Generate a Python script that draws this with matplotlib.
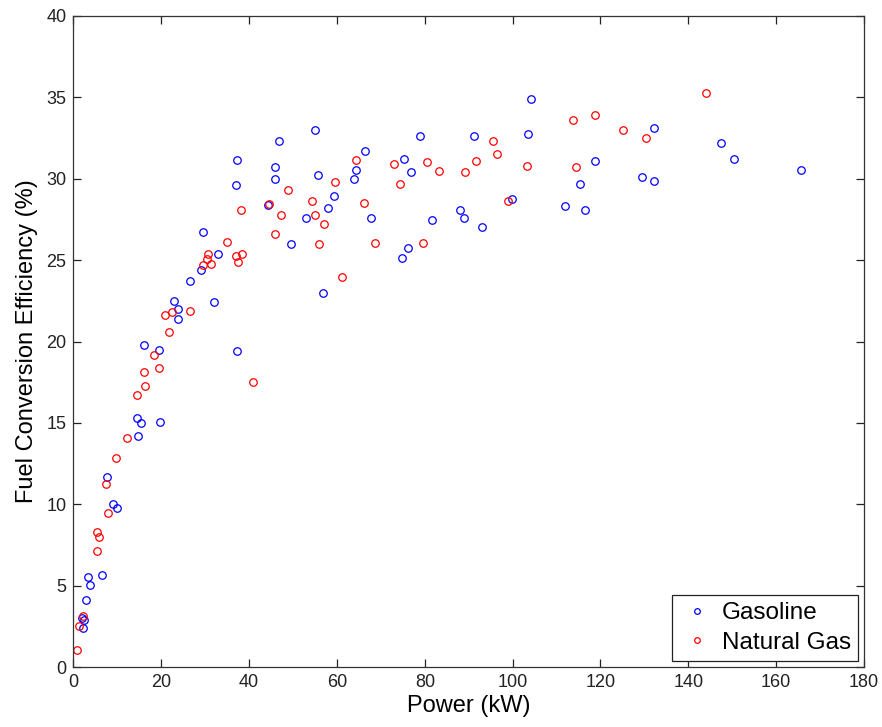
import numpy as np
import matplotlib
matplotlib.use("Agg")
from matplotlib import pyplot as plt

# gasoline engine data (power kW, efficiency %)
gas_power = [2.1, 2.4, 1.9, 2.85, 3.2, 3.8, 6.6, 7.7, 8.9, 10.0,
             14.4, 15.3, 14.7, 19.7, 16.1, 19.5, 22.8, 23.7, 23.9, 26.5,
             32.0, 29.0, 33.0, 37.2, 29.6, 37.2, 36.9, 44.4, 46.7, 45.9,
             45.9, 49.5, 55.1, 55.7, 52.9, 58.0, 59.3, 63.8, 64.3, 56.8,
             66.4, 67.8, 75.3, 76.8, 79.0, 81.6, 76.2, 74.8, 88.0, 88.9,
             93.1, 91.2, 99.9, 103.6, 104.2, 118.7, 115.3, 112.0, 116.5, 132.2,
             129.4, 132.2, 147.4, 150.5, 165.6]
gas_eff = [2.4, 2.9, 3.0, 4.1, 5.55, 5.05, 5.65, 11.7, 10.0, 9.8,
           15.3, 15.0, 14.2, 15.05, 19.8, 19.45, 22.5, 22.0, 21.4, 23.7,
           22.4, 24.4, 25.4, 19.4, 26.7, 31.15, 29.6, 28.4, 32.3, 30.7,
           30.0, 26.0, 33.0, 30.2, 27.6, 28.2, 28.95, 30.0, 30.55, 23.0,
           31.7, 27.6, 31.2, 30.4, 32.65, 27.45, 25.75, 25.15, 28.1, 27.6,
           27.05, 32.6, 28.75, 32.75, 34.9, 31.1, 29.7, 28.3, 28.1, 33.1,
           30.1, 29.85, 32.2, 31.2, 30.55]

# natural gas engine data
ng_power = [0.7, 1.3, 2.2, 5.3, 5.7, 5.4, 7.3, 7.9, 9.7, 12.1,
            14.4, 16.4, 16.1, 18.4, 19.5, 20.8, 21.7, 22.5, 26.5, 29.6,
            30.3, 30.7, 31.3, 37.0, 37.5, 38.3, 40.8, 38.2, 34.9, 44.5,
            48.9, 47.2, 45.9, 54.3, 54.9, 57.1, 55.9, 59.6, 61.1, 64.3,
            66.1, 68.6, 73.0, 74.3, 80.4, 83.2, 79.6, 89.2, 91.6, 95.6,
            96.4, 99.0, 103.2, 113.7, 118.7, 114.5, 125.2, 130.4, 144.0]
ng_eff = [1.05, 2.55, 3.15, 8.3, 8.0, 7.1, 11.25, 9.45, 12.85, 14.05,
          16.7, 17.25, 18.15, 19.15, 18.4, 21.65, 20.6, 21.8, 21.9, 24.7,
          25.1, 25.4, 24.75, 25.25, 24.9, 25.4, 17.5, 28.05, 26.1, 28.45,
          29.3, 27.8, 26.6, 28.65, 27.75, 27.2, 26.0, 29.8, 23.95, 31.15,
          28.5, 26.05, 30.9, 29.65, 31.0, 30.45, 26.05, 30.4, 31.1, 32.3,
          31.55, 28.65, 30.8, 33.6, 33.9, 30.7, 33.0, 32.5, 35.25]

plt.rcParams['font.family'] = ['Liberation Sans', 'DejaVu Sans']

fig = plt.figure(figsize=(8.82, 7.27), dpi=100)
ax = fig.add_axes([0.0833, 0.0825, 0.8963, 0.8955])

ax.plot(gas_power, gas_eff, 'o', mfc='none', mec='#0000ff', mew=0.9, ms=5.4, label='Gasoline')
ax.plot(ng_power, ng_eff, 'o', mfc='none', mec='#ff0000', mew=0.9, ms=5.4, label='Natural Gas')

ax.set_xlim(0, 180)
ax.set_ylim(0, 40)
ax.set_xticks(np.arange(0, 181, 20))
ax.set_yticks(np.arange(0, 41, 5))
ax.tick_params(direction='in', top=True, right=True, length=6, width=0.9,
               labelsize=13, colors='#222222', pad=5)
for s in ax.spines.values():
    s.set_color('#333333')
    s.set_linewidth(0.9)

ax.set_xlabel('Power (kW)', fontsize=17, labelpad=3)
ax.set_ylabel('Fuel Conversion Efficiency (%)', fontsize=17, labelpad=6)

leg = ax.legend(loc='lower right', fontsize=17.5, markerscale=0.75, fancybox=False,
                framealpha=1, edgecolor='#222222', borderaxespad=0.25,
                handlelength=1.5, handletextpad=0.25, borderpad=0.3, labelspacing=0.3)
leg.get_frame().set_linewidth(0.9)

fig.savefig('out.png', dpi=100)
